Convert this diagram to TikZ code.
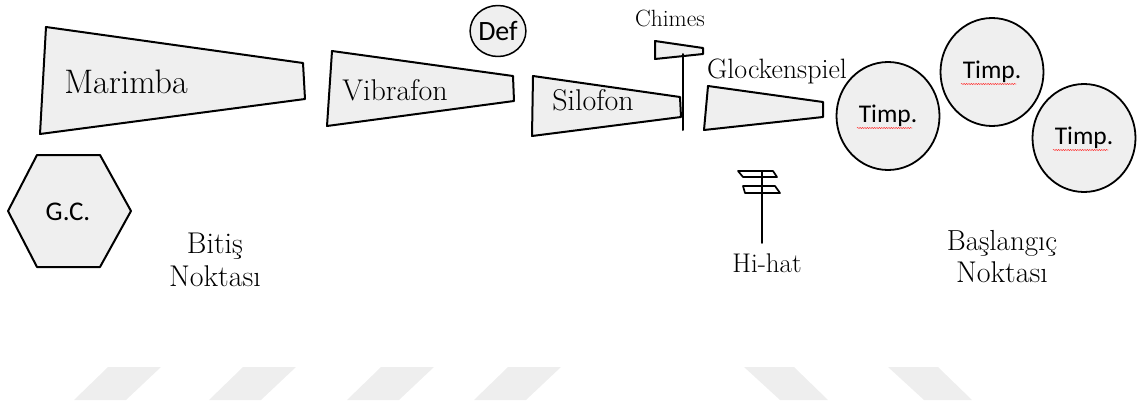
\documentclass[tikz,border=0pt]{standalone}
\usepackage{fontspec}
\newfontfamily\calibri{Carlito}
\usetikzlibrary{shapes.geometric,decorations.pathmorphing}
\definecolor{barfill}{HTML}{EFEFEF}
\definecolor{markgray}{HTML}{EEEEEE}
\begin{document}
\begin{tikzpicture}[x=1pt, y=-1pt, line join=round, line cap=round,
  bar/.style={draw, fill=barfill, line width=2pt},
  drum/.style={ellipse, draw, fill=barfill, line width=1.8pt, inner sep=0pt, minimum width=103pt, minimum height=108pt, font=\calibri\fontsize{25.5}{28}\selectfont},
  lbl/.style={anchor=base, inner sep=0pt, font=\fontsize{30}{32}\selectfont},
  wavy/.style={red!80, line width=0.5pt, decorate, decoration={snake, amplitude=0.6pt, segment length=2.4pt}}]
\useasboundingbox (0,0) rectangle (1143,410);
% faded marks along the bottom
\foreach \a in {74,209,347,474}
\fill[markgray] (\a,400)--(\a+52,400)--(\a+87,367)--(\a+34,367)--cycle;
\foreach \a in {744,888}
\fill[markgray] (\a,367)--(\a+50,367)--(\a+84,400)--(\a+36,400)--cycle;
% keyboards
\draw[bar] (46,27)--(303,63)--(305,99)--(40,134)--cycle;
\draw[bar] (332,51)--(513,76)--(514,101)--(327,126)--cycle;
\draw[bar] (533,76)--(680,97)--(681,117)--(532,136)--cycle;
\draw[bar] (708,86)--(823,102)--(823,117)--(704,130)--cycle;
\draw[bar] (655,41)--(703,48)--(703,54)--(655,59)--cycle;
\draw[line width=2pt] (683,54)--(683,130);
\draw[bar] (37,155)--(100,155)--(131,211)--(100,267)--(37,267)--(8,211)--cycle;
% hi-hat
\draw[line width=1.7pt] (738,171)--(773,171)--(777,177)--(743,177)--cycle
  (743,186)--(775,186)--(780,193)--(745,193)--cycle (762,171)--(762,243);
% labels
\path (126,93) node[lbl, font=\fontsize{34}{36}\selectfont] (marimba) {Marimba}
  (395,100) node[lbl] (vibrafon) {Vibrafon}
  (593,110) node[lbl] (silofon) {Silofon}
  (670,26) node[lbl, font=\fontsize{23.5}{26}\selectfont] (chimes) {Chimes}
  (777,78) node[lbl, font=\fontsize{28}{30}\selectfont] (glocken) {Glockenspiel}
  (767,272) node[lbl, font=\fontsize{27}{30}\selectfont] (hihat) {Hi-hat}
  (215,253) node[lbl] (bitis) {Bitiş} ++(0,33) node[lbl] (bitisN) {Noktası}
  (1002,250) node[lbl, font=\fontsize{29}{32}\selectfont] (basla) {Başlangıç} ++(0,32) node[lbl] (baslaN) {Noktası};
\node[font=\calibri\fontsize{27}{30}\selectfont] (gc) at (68,212) {G.C.};
\node[drum, minimum width=47pt, minimum height=51pt, line width=1.5pt, font=\calibri\fontsize{28}{30}\selectfont] (def) at (498,31) {Def};
% timpani
\node[drum] (t1) at (888,116) {Timp.};
\node[drum] (t2) at (992,72) {Timp.};
\node[drum] (t3) at (1084,138) {Timp.};
\foreach \t in {t1,t2,t3}
\draw[wavy] ([xshift=-31pt,yshift=-12pt]\t.center)--([xshift=24pt,yshift=-12pt]\t.center);
\end{tikzpicture}
\end{document}
